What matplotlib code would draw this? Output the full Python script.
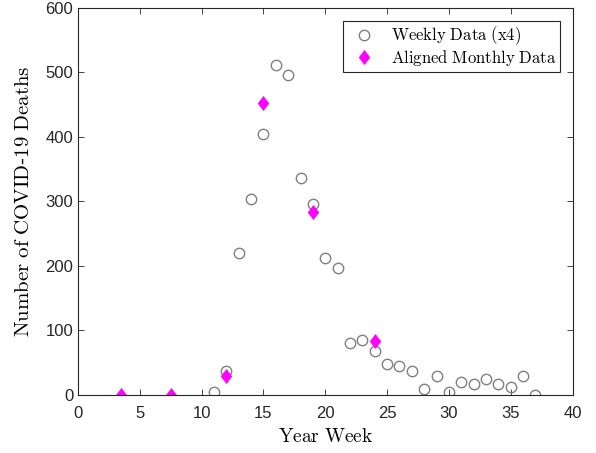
import numpy as np
import matplotlib
matplotlib.use("Agg")
from matplotlib import pyplot as plt

# weekly deaths (already x4)
weeks = [11, 12, 13, 14, 15, 16, 17, 18, 19, 20, 21, 22, 23, 24, 25, 26, 27, 28,
         29, 30, 31, 32, 33, 34, 35, 36, 37]
weekly_deaths = [4, 36, 220, 304, 404, 512, 496, 336, 296, 212, 196, 80, 84, 68,
                 48, 44, 36, 8, 28, 4, 20, 16, 24, 16, 12, 28, 0]

# monthly deaths aligned to weeks
month_weeks = [3.5, 7.5, 12, 15, 19, 24]
monthly_deaths = [0, 0, 29, 453, 284, 83]

plt.rcParams['mathtext.fontset'] = 'cm'
plt.rcParams['font.family'] = 'Liberation Sans'

# matlab style diamond (a bit narrower than matplotlib 'D')
diamond = [(-0.38, 0), (0, 0.5), (0.38, 0), (0, -0.5), (-0.38, 0)]

fig = plt.figure(figsize=(5.96, 4.53), dpi=100)
ax = fig.add_axes([0.1309, 0.1291, 0.8297, 0.8532])

ax.plot(weeks, weekly_deaths, linestyle='none', marker='o', markersize=7.5,
        markerfacecolor='none', markeredgecolor='#808080', markeredgewidth=1.0,
        label=r'$\mathrm{Weekly\ Data\ (x4)}$')
ax.plot(month_weeks, monthly_deaths, linestyle='none', marker=diamond, markersize=10,
        color='#ff00ff', markeredgecolor='#ff00ff', markeredgewidth=0.5,
        label=r'$\mathrm{Aligned\ Monthly\ Data}$')

ax.set_xlim([0, 40])
ax.set_ylim([0, 600])
ax.set_xticks(range(0, 41, 5))
ax.set_yticks(range(0, 601, 100))
ax.tick_params(direction='in', top=True, right=True, labelsize=12, length=4.5,
               width=0.6, colors='#262626')
ax.tick_params(axis='x', pad=8)
for s in ax.spines.values():
    s.set_linewidth(0.8)
    s.set_color('#262626')

ax.set_xlabel(r'$\mathrm{Year\ Week}$', fontsize=14, labelpad=5)
ax.set_ylabel(r'$\mathrm{Number\ of\ COVID}$-$\mathrm{19\ Deaths}$', fontsize=15, labelpad=9)

leg = ax.legend(loc='upper right', fontsize=12, fancybox=False, framealpha=1,
                edgecolor='#262626', borderaxespad=0.75, handletextpad=0.6,
                borderpad=0.25, labelspacing=0.05, handlelength=2.0)
leg.get_frame().set_linewidth(0.8)

fig.savefig('out.png', dpi=100)
